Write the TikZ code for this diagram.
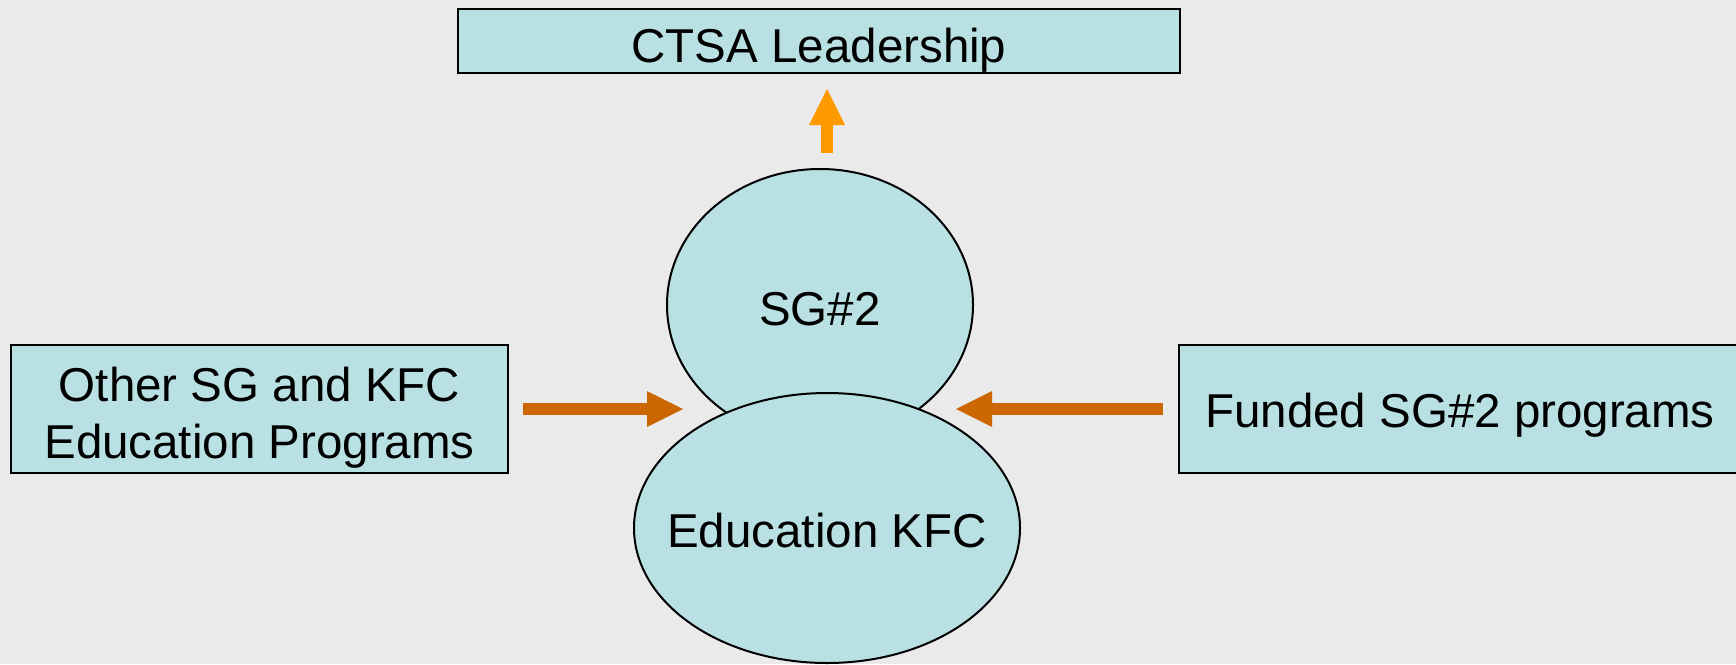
\documentclass[tikz,border=0pt]{standalone}
\usepackage{fontspec}
\setmainfont{Liberation Sans}
\usetikzlibrary{shapes.geometric,arrows.meta}
\definecolor{bgc}{HTML}{EAEAEA}
\definecolor{boxc}{HTML}{B9E0E3}
\definecolor{dkor}{HTML}{CC6600}
\definecolor{ltor}{HTML}{FF9900}
\begin{document}
\begin{tikzpicture}[x=1pt,y=-1pt,
  every node/.style={font=\fontsize{47.5}{57}\selectfont, inner sep=0pt},
  boxstyle/.style={draw=black, line width=2pt, fill=boxc, rectangle},
  ellstyle/.style={draw=black, line width=2pt, fill=boxc, ellipse},
  flow/.style={draw=dkor, line width=12pt, -{Triangle[length=36pt,width=36pt,line width=0pt]}},
  upflow/.style={flow, draw=ltor}]
\useasboundingbox (0,0) rectangle (1736,664);
\clip (0,0) rectangle (1736,664);
\fill[bgc] (0,0) rectangle (1736,664);
% boxes
\node[boxstyle, minimum width=722pt, minimum height=64pt, text height=42pt, text depth=0pt] (ctsa) at (819,41) {CTSA Leadership};
\node[boxstyle, minimum width=497pt, minimum height=128pt, align=center, text height=98pt, text depth=0pt] (other) at (259.5,409) {Other SG and KFC\\Education Programs};
\node[boxstyle, minimum width=562pt, minimum height=128pt, text height=36pt, text depth=0pt] (funded) at (1460,409) {Funded SG\#2 programs};
% ellipses
\node[ellstyle, minimum width=306pt, minimum height=272pt, text height=40pt, text depth=0pt] (sg) at (820,305) {\makebox[0pt]{SG\#2}};
\node[ellstyle, minimum width=386pt, minimum height=270pt, text height=38pt, text depth=0pt] (kfc) at (827,528) {\makebox[0pt]{Education KFC}};
% arrows
\coordinate (lA) at (523,409);
\coordinate (lB) at (683,409);
\coordinate (rA) at (1163,409);
\coordinate (rB) at (956,409);
\coordinate (uA) at (827,153);
\coordinate (uB) at (827,89);
\draw[flow] (lA) -- (lB);
\draw[flow] (rA) -- (rB);
\draw[upflow] (uA) -- (uB);
\end{tikzpicture}
\end{document}
